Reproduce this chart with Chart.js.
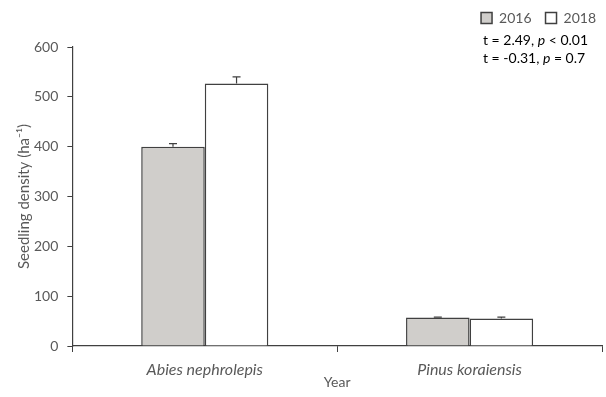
<!DOCTYPE html>
<html>
<head>
<meta charset="utf-8">
<script src="https://cdn.jsdelivr.net/npm/chart.js@4/dist/chart.umd.min.js"></script>
<style>
  html, body { margin: 0; padding: 0; background: #fff; }
  #wrap { width: 606px; height: 397px; }
</style>
</head>
<body>
<div id="wrap"><canvas id="c" width="606" height="397"></canvas></div>
<script>
// Species on the x axis
const species = ['Abies nephrolepis', 'Pinus koraiensis'];
// Mean seedling density per survey year (ha⁻¹)
const density2016 = [400, 57];
const density2018 = [527, 55];
// Standard errors (upper whiskers only)
const error2016 = [6, 1];
const error2018 = [13, 3];
// Y axis ticks
const yTicks = [0, 100, 200, 300, 400, 500, 600];
// Test results printed under the legend
const statLines = [
  ['t = 2.49, ', 'p', ' < 0.01'],
  ['t = -0.31, ', 'p', ' = 0.7']
];

const FONT = 'Lato, "Open Sans", sans-serif';
const GREY_TEXT = '#595959';
const EDGE = '#404040';

// Upper error whiskers drawn from each bar's top
const errorBars = {
  id: 'errorBars',
  afterDatasetsDraw(chart) {
    const ctx = chart.ctx;
    const y = chart.scales.y;
    ctx.save();
    ctx.strokeStyle = EDGE;
    ctx.lineWidth = 1.2;
    chart.data.datasets.forEach((ds, di) => {
      const meta = chart.getDatasetMeta(di);
      meta.data.forEach((bar, i) => {
        const top = y.getPixelForValue(ds.data[i] + ds.errors[i]);
        ctx.beginPath();
        ctx.moveTo(bar.x, bar.y);
        ctx.lineTo(bar.x, top);
        ctx.moveTo(bar.x - 4, top);
        ctx.lineTo(bar.x + 4, top);
        ctx.stroke();
      });
    });
    ctx.restore();
  }
};

// Nudge the legend up into the top-right corner
const legendNudge = {
  id: 'legendNudge',
  afterLayout(chart) {
    const lg = chart.legend;
    if (!lg) return;
    lg.left += 8; lg.right += 8;
    lg.top -= 12; lg.bottom -= 12;
  }
};

// t-test annotation, italic p
const statText = {
  id: 'statText',
  afterDraw(chart) {
    const ctx = chart.ctx;
    ctx.save();
    ctx.fillStyle = '#000';
    ctx.textBaseline = 'middle';
    statLines.forEach((parts, li) => {
      let x = 483;
      const yy = 40 + li * 18;
      parts.forEach((p, pi) => {
        ctx.font = (pi === 1 ? 'italic ' : '') + '14px ' + FONT;
        ctx.fillText(p, x, yy);
        x += ctx.measureText(p).width;
      });
    });
    ctx.restore();
  }
};

new Chart(document.getElementById('c'), {
  type: 'bar',
  data: {
    labels: species,
    datasets: [
      {
        label: '2016',
        data: density2016,
        errors: error2016,
        backgroundColor: '#d0cecb',
        borderColor: EDGE,
        borderWidth: 1.5
      },
      {
        label: '2018',
        data: density2018,
        errors: error2018,
        backgroundColor: '#ffffff',
        borderColor: EDGE,
        borderWidth: 1.5
      }
    ]
  },
  options: {
    responsive: false,
    animation: false,
    layout: { padding: { left: 15, right: 4, top: 9, bottom: 6 } },
    datasets: {
      bar: { categoryPercentage: 0.48, barPercentage: 1.0 }
    },
    plugins: {
      tooltip: { enabled: false },
      legend: {
        position: 'top',
        align: 'end',
        labels: {
          boxWidth: 11,
          boxHeight: 11,
          padding: 14,
          color: GREY_TEXT,
          font: { family: FONT, size: 14 }
        }
      }
    },
    scales: {
      x: {
        offset: true,
        grid: {
          offset: true,
          drawOnChartArea: false,
          drawTicks: true,
          tickLength: 6,
          color: EDGE
        },
        border: { color: EDGE, width: 1.2 },
        ticks: {
          color: GREY_TEXT,
          font: { family: FONT, size: 16, style: 'italic' },
          padding: 8
        },
        title: {
          display: true,
          text: 'Year',
          color: GREY_TEXT,
          font: { family: FONT, size: 14 },
          padding: { top: -13, bottom: 0 }
        }
      },
      y: {
        min: 0,
        max: 600,
        afterBuildTicks(scale) {
          scale.ticks = yTicks.map(v => ({ value: v }));
        },
        grid: {
          drawOnChartArea: false,
          drawTicks: true,
          tickLength: 5,
          color: EDGE
        },
        border: { color: EDGE, width: 1.2 },
        ticks: {
          color: GREY_TEXT,
          font: { family: FONT, size: 14 },
          padding: 9
        },
        title: {
          display: true,
          text: 'Seedling density (ha⁻¹)',
          color: GREY_TEXT,
          font: { family: FONT, size: 15 },
          padding: { top: 0, bottom: -8 }
        }
      }
    }
  },
  plugins: [errorBars, legendNudge, statText]
});
</script>
</body>
</html>
